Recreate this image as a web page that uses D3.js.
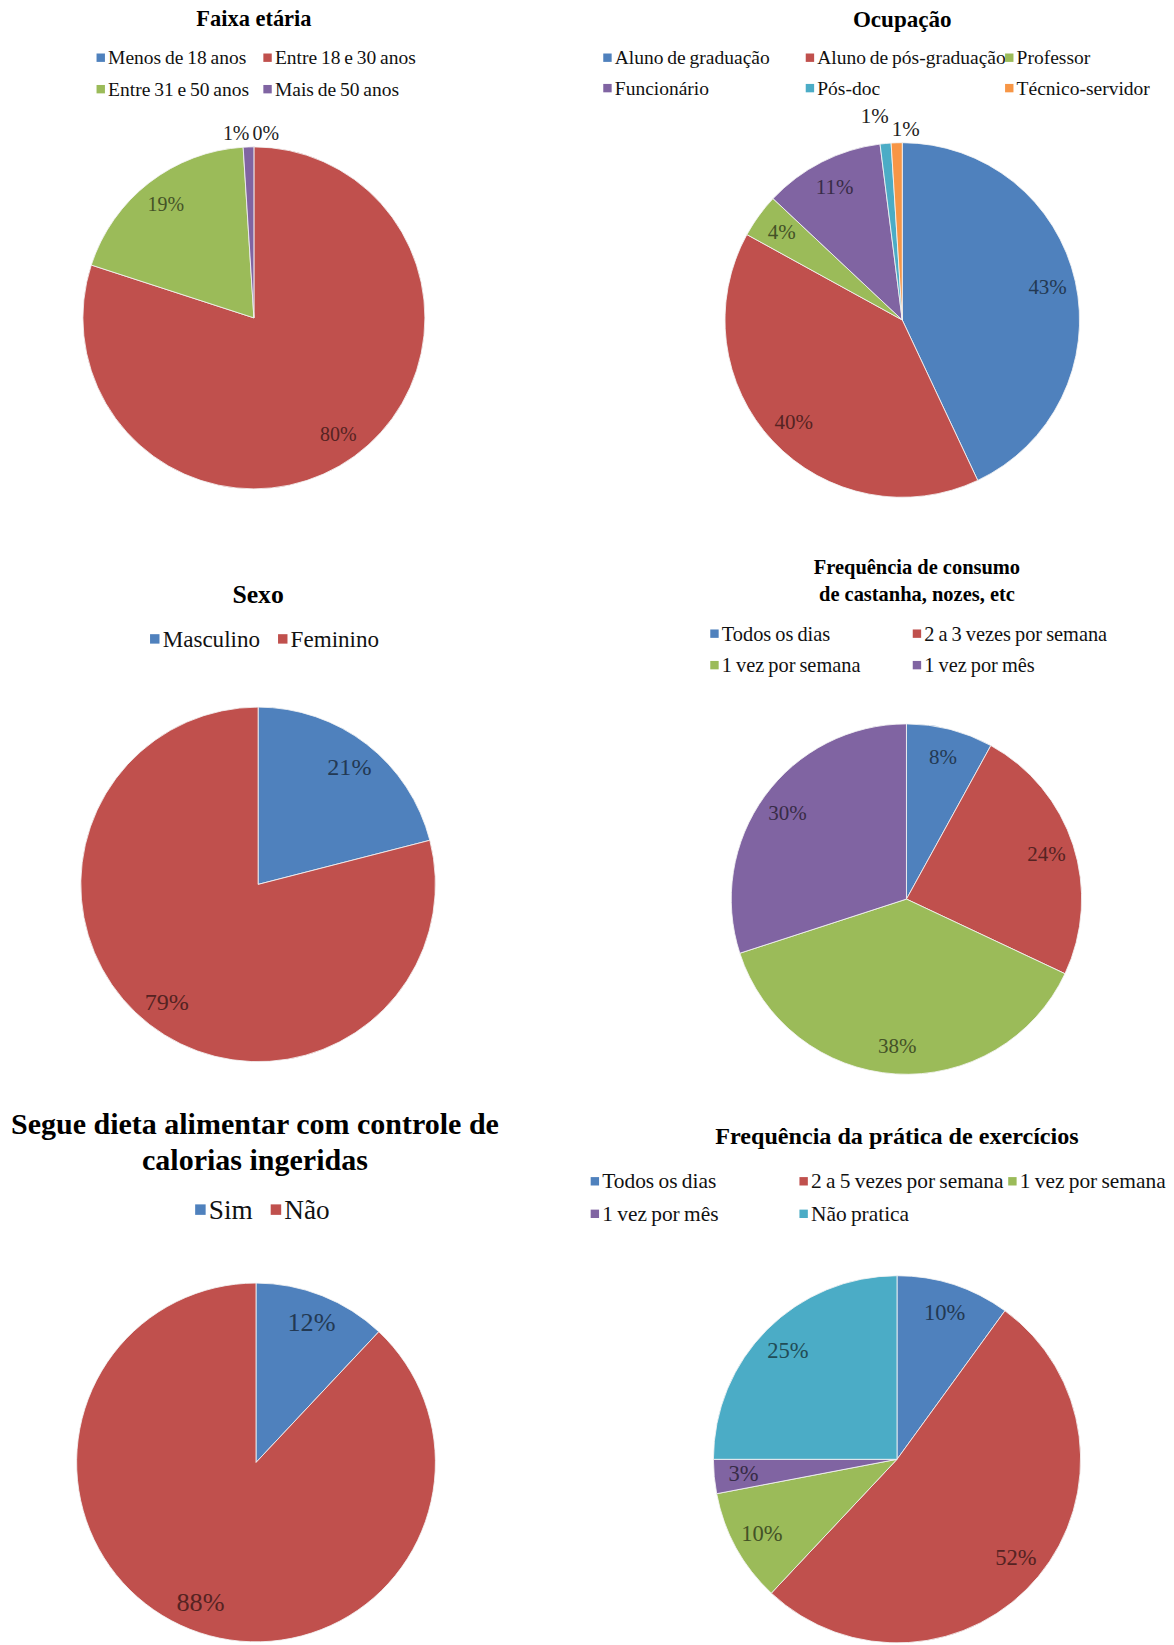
<!DOCTYPE html>
<html>
<head>
<meta charset="utf-8">
<script src="https://cdn.jsdelivr.net/npm/d3@7"></script>
<style>
  html, body { margin: 0; padding: 0; background: #ffffff; }
  svg { display: block; }
</style>
</head>
<body>
<script>
// ---------------- DATA ----------------
const faixaCategories = ["Menos de 18 anos", "Entre 18 e 30 anos", "Entre 31 e 50 anos", "Mais de 50 anos"];
const faixaValues = [0, 80, 19, 1];

const ocupacaoCategories = ["Aluno de graduação", "Aluno de pós-graduação", "Professor", "Funcionário", "Pós-doc", "Técnico-servidor"];
const ocupacaoValues = [43, 40, 4, 11, 1, 1];

const sexoCategories = ["Masculino", "Feminino"];
const sexoValues = [21, 79];

const castanhaCategories = ["Todos os dias", "2 a 3 vezes por semana", "1 vez por semana", "1 vez por mês"];
const castanhaValues = [8, 24, 38, 30];

const dietaCategories = ["Sim", "Não"];
const dietaValues = [12, 88];

const exercicioCategories = ["Todos os dias", "2 a 5 vezes por semana", "1 vez por semana", "1 vez por mês", "Não pratica"];
const exercicioValues = [10, 52, 10, 3, 25];

const chartTitles = [
  ["Faixa etária"],
  ["Ocupação"],
  ["Sexo"],
  ["Frequência de consumo", "de castanha, nozes, etc"],
  ["Segue dieta alimentar com controle de", "calorias ingeridas"],
  ["Frequência da prática de exercícios"]
];

const palette = ["#4F81BD", "#C0504D", "#9BBB59", "#8064A2", "#4BACC6", "#F79646"];

// ---------------- LAYOUT (positions / sizes / styles) ----------------
const W = 1119, H = 1568;
const FONT = "'Liberation Serif', 'Times New Roman', serif";
const layouts = [
  {cx: 242, cy: 303, r: 163, titleX: 242, titleY: [18], titleSize: 21.4,
   legX: [92, 251], legY: [55, 85], legSize: 18.6, sw: 8, labelSize: 19},
  {cx: 860, cy: 305, r: 169, titleX: 860, titleY: [18], titleSize: 22,
   legX: [575, 768, 958], legY: [55, 84], legSize: 18.6, sw: 8, labelSize: 20},
  {cx: 246, cy: 843, r: 169, titleX: 246, titleY: [567], titleSize: 24.5,
   legX: [143, 265], legY: [609], legSize: 22, sw: 9, labelSize: 23},
  {cx: 864, cy: 857, r: 167, titleX: 874, titleY: [540, 566], titleSize: 19.5,
   legX: [677, 870], legY: [604, 634], legSize: 19.4, sw: 8, labelSize: 20},
  {cx: 244, cy: 1394, r: 171, titleX: 243, titleY: [1071, 1105], titleSize: 28.6,
   legX: [186, 258], legY: [1153], legSize: 26, sw: 10, labelSize: 25},
  {cx: 855, cy: 1391, r: 175, titleX: 855, titleY: [1083], titleSize: 23,
   legX: [563, 762, 961], legY: [1126, 1157], legSize: 20.4, sw: 8, labelSize: 21.5}
];

const datasets = [
  {cats: faixaCategories, vals: faixaValues},
  {cats: ocupacaoCategories, vals: ocupacaoValues},
  {cats: sexoCategories, vals: sexoValues},
  {cats: castanhaCategories, vals: castanhaValues},
  {cats: dietaCategories, vals: dietaValues},
  {cats: exercicioCategories, vals: exercicioValues}
];

// ---------------- DRAW ----------------
const svg = d3.select("body").append("svg")
  .attr("width", 1174).attr("height", 1645)
  .attr("viewBox", `0 0 ${W} ${H}`);

svg.append("rect").attr("width", W).attr("height", H).attr("fill", "#fff");

const pie = d3.pie().sort(null).value(d => d);

datasets.forEach((ds, ci) => {
  const L = layouts[ci];
  const g = svg.append("g");
  const color = d3.scaleOrdinal().domain(ds.cats).range(palette);

  // title
  chartTitles[ci].forEach((line, li) => {
    g.append("text")
      .attr("x", L.titleX).attr("y", L.titleY[li])
      .attr("text-anchor", "middle").attr("dominant-baseline", "central")
      .attr("font-family", FONT)
      .attr("font-weight", "bold").attr("font-size", L.titleSize)
      .attr("fill", "#000").text(line);
  });

  // legend
  const ncol = L.legX.length;
  ds.cats.forEach((c, i) => {
    const x = L.legX[i % ncol], y = L.legY[Math.floor(i / ncol)];
    g.append("rect").attr("x", x).attr("y", y - L.sw / 2).attr("width", L.sw).attr("height", L.sw)
      .attr("fill", color(c));
    g.append("text").attr("x", x + L.sw + 3).attr("y", y)
      .attr("dominant-baseline", "central")
      .attr("font-family", FONT).attr("font-size", L.legSize)
      .attr("word-spacing", -1)
      .attr("fill", "#111").text(c);
  });

  // pie
  const arcs = pie(ds.vals).map((a, i) => Object.assign(a, {cat: ds.cats[i]}));
  const arc = d3.arc().innerRadius(0).outerRadius(L.r);
  const pg = g.append("g").attr("transform", `translate(${L.cx},${L.cy})`);
  pg.selectAll("path").data(arcs.filter(a => a.value > 0)).join("path")
    .attr("d", arc)
    .attr("fill", a => color(a.cat))
    .attr("stroke", "#f4f4f4").attr("stroke-width", 0.8);

  // labels
  const inside = d3.arc().innerRadius(L.r * 0.84).outerRadius(L.r * 0.84);
  const outsideLabels = [];
  arcs.forEach(a => {
    const txt = a.value + "%";
    const mid = (a.startAngle + a.endAngle) / 2;
    const col = d3.color(color(a.cat)).darker(2.3).formatHex();
    if (a.value < 2) {
      const rr = L.r + 13;
      const t = pg.append("text")
        .attr("text-anchor", "middle").attr("dominant-baseline", "central")
        .attr("font-family", FONT).attr("font-size", L.labelSize)
        .attr("fill", "#222").text(txt);
      outsideLabels.push({t, x: Math.sin(mid) * rr, y: -Math.cos(mid) * rr,
        left: mid > Math.PI, w: t.node().getComputedTextLength()});
    } else {
      const [x, y] = inside.centroid(a);
      pg.append("text").attr("x", x).attr("y", y)
        .attr("text-anchor", "middle").attr("dominant-baseline", "central")
        .attr("font-family", FONT)
        .attr("font-size", L.labelSize).attr("fill", col).text(txt);
    }
  });
  // resolve overlaps of outside labels
  outsideLabels.sort((p, q) => p.x - q.x);
  for (let k = 1; k < outsideLabels.length; k++) {
    const p = outsideLabels[k - 1], q = outsideLabels[k];
    const need = (p.w + q.w) / 2 + 3;
    if (q.x - p.x < need) {
      const m = (p.x + q.x) / 2;
      p.x = m - need / 2; q.x = m + need / 2;
      if (p.left === q.left) p.y -= L.labelSize * 0.68;
    }
  }
  outsideLabels.forEach(o => o.t.attr("x", o.x).attr("y", o.y));
});
</script>
</body>
</html>
